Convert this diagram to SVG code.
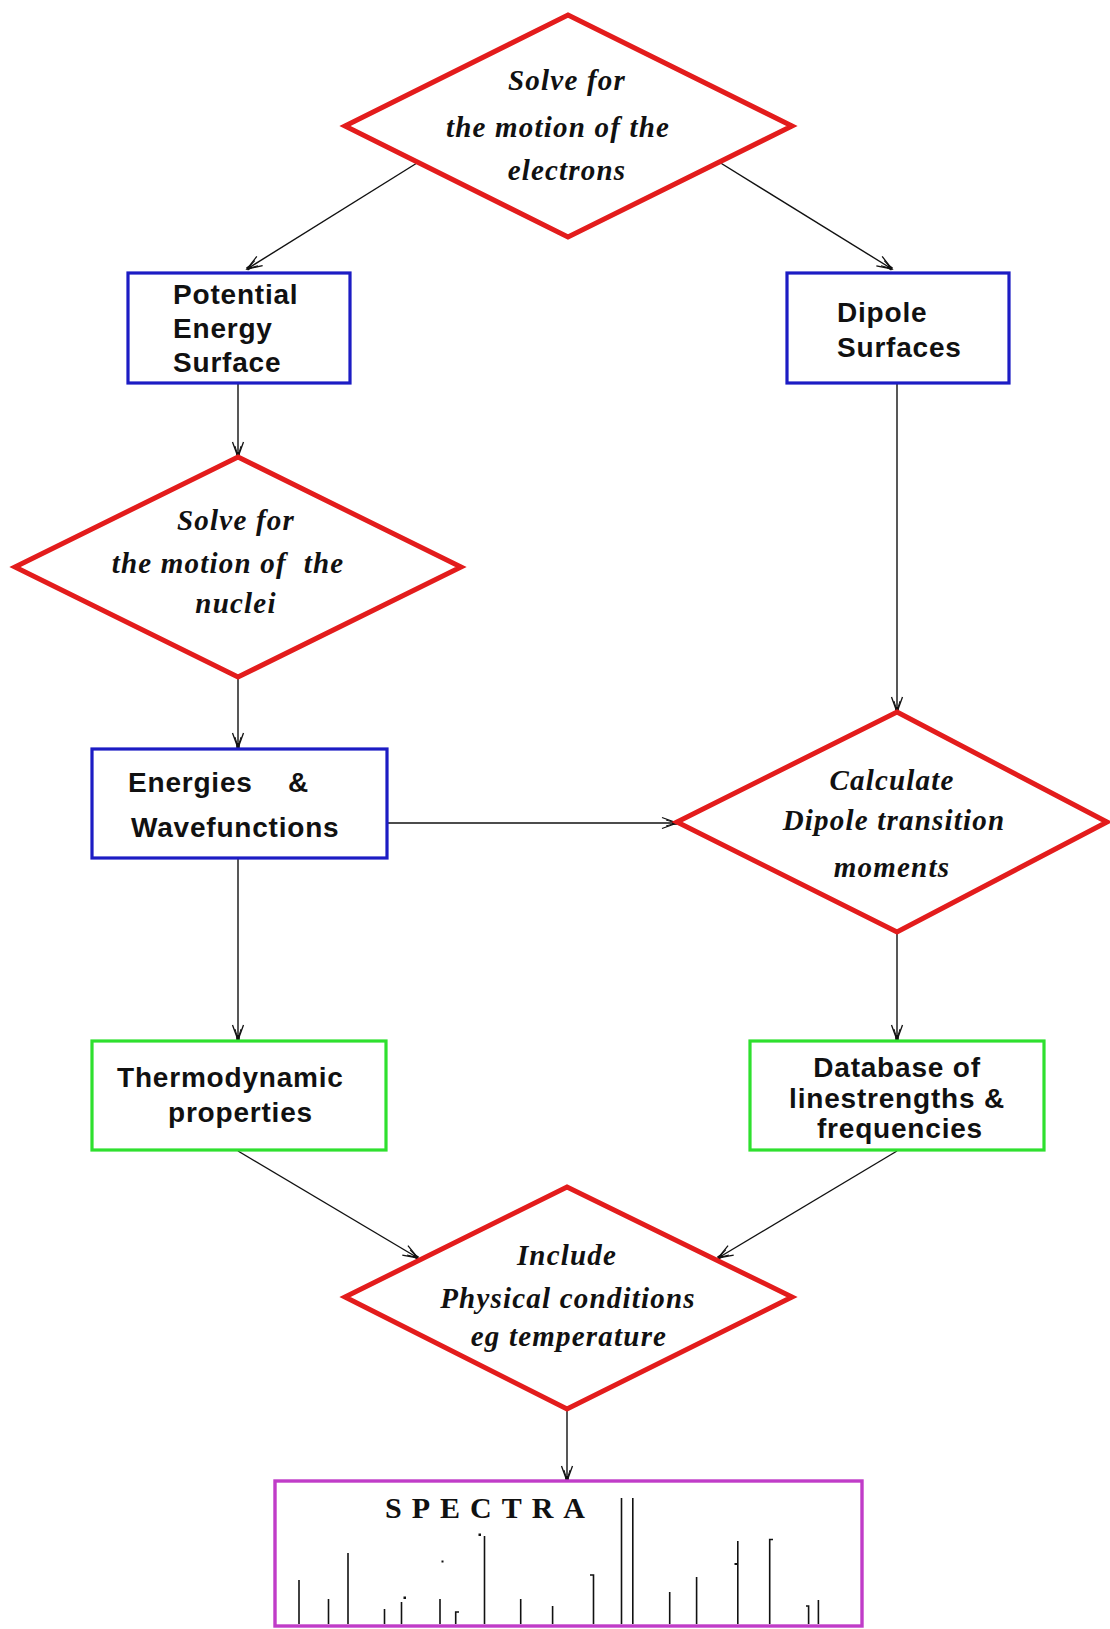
<svg xmlns="http://www.w3.org/2000/svg" width="1110" height="1629" viewBox="0 0 1110 1629">
<defs>
<style>
.dia{fill:#fff;stroke:#e31c1c;stroke-width:5;stroke-linejoin:miter}
.blue{fill:#fff;stroke:#1c1cc4;stroke-width:3.2}
.green{fill:#fff;stroke:#2ee02e;stroke-width:3.2}
.mag{fill:#fff;stroke:#c03cc8;stroke-width:3.4}
.dt{font-family:"Liberation Serif","Times New Roman",serif;font-weight:bold;font-style:italic;font-size:29px;letter-spacing:1.2px;fill:#111;text-anchor:middle}
.bt{font-family:"Liberation Sans",Arial,sans-serif;font-weight:bold;font-size:28px;letter-spacing:0.8px;fill:#111}
.c{stroke:#111;stroke-width:1.4;fill:none}
.sp{stroke:#111;stroke-width:1.6;fill:none}
</style>
<marker id="arr" viewBox="-17 -8 19 16" refX="0" refY="0" markerWidth="19" markerHeight="16" orient="auto" markerUnits="userSpaceOnUse">
<path d="M-15,-5.5 L0,0 L-15,5.5" fill="none" stroke="#111" stroke-width="1.3"/>
<path d="M-11,-3 L-1,0 L-11,3" fill="none" stroke="#111" stroke-width="1"/>
<rect x="-5" y="-1.8" width="5" height="3.6" fill="#111"/>
</marker>
</defs>

<g id="connectors">
<line class="c" x1="417" y1="163" x2="247" y2="269" marker-end="url(#arr)"/>
<line class="c" x1="719" y1="162" x2="892" y2="269" marker-end="url(#arr)"/>
<line class="c" x1="238" y1="383" x2="238" y2="457" marker-end="url(#arr)"/>
<line class="c" x1="897" y1="383" x2="897" y2="712" marker-end="url(#arr)"/>
<line class="c" x1="238" y1="677" x2="238" y2="748" marker-end="url(#arr)"/>
<line class="c" x1="387" y1="823" x2="677" y2="823" marker-end="url(#arr)"/>
<line class="c" x1="238" y1="858" x2="238" y2="1040" marker-end="url(#arr)"/>
<line class="c" x1="897" y1="932" x2="897" y2="1040" marker-end="url(#arr)"/>
<line class="c" x1="238" y1="1151" x2="418" y2="1258" marker-end="url(#arr)"/>
<line class="c" x1="897" y1="1151" x2="718" y2="1258" marker-end="url(#arr)"/>
<line class="c" x1="567" y1="1409" x2="567" y2="1481" marker-end="url(#arr)"/>
</g>

<g id="solve-electrons">
<polygon class="dia" points="568,15 792,126 568,237 345,126"/>
<text class="dt" x="567" y="90">Solve for</text>
<text class="dt" x="558" y="137">the motion of the</text>
<text class="dt" x="567" y="180">electrons</text>
</g>

<g id="pes">
<rect class="blue" x="128" y="273" width="222" height="110"/>
<text class="bt" x="173" y="304">Potential</text>
<text class="bt" x="173" y="338">Energy</text>
<text class="bt" x="173" y="372">Surface</text>
</g>

<g id="dipole-surfaces">
<rect class="blue" x="787" y="273" width="222" height="110"/>
<text class="bt" x="837" y="322">Dipole</text>
<text class="bt" x="837" y="357">Surfaces</text>
</g>

<g id="solve-nuclei">
<polygon class="dia" points="238,457 461,567 238,677 15,567"/>
<text class="dt" x="236" y="530">Solve for</text>
<text class="dt" x="228" y="573">the motion of&#160; the</text>
<text class="dt" x="236" y="613">nuclei</text>
</g>

<g id="energies">
<rect class="blue" x="92" y="749" width="295" height="109"/>
<text class="bt" x="128" y="792">Energies</text>
<text class="bt" x="288" y="792">&amp;</text>
<text class="bt" x="131" y="837">Wavefunctions</text>
</g>

<g id="calculate">
<polygon class="dia" points="897,712 1107,822 897,932 677,822"/>
<text class="dt" x="892" y="790">Calculate</text>
<text class="dt" x="894" y="830">Dipole transition</text>
<text class="dt" x="892" y="877">moments</text>
</g>

<g id="thermo">
<rect class="green" x="92" y="1041" width="294" height="109"/>
<text class="bt" x="117" y="1087">Thermodynamic</text>
<text class="bt" x="168" y="1122">properties</text>
</g>

<g id="database">
<rect class="green" x="750" y="1041" width="294" height="109"/>
<text class="bt" x="897" y="1077" text-anchor="middle">Database of</text>
<text class="bt" x="897" y="1108" text-anchor="middle">linestrengths &amp;</text>
<text class="bt" x="900" y="1138" text-anchor="middle">frequencies</text>
</g>

<g id="include">
<polygon class="dia" points="567,1187 792,1297 567,1409 345,1297"/>
<text class="dt" x="567" y="1265">Include</text>
<text class="dt" x="568" y="1308">Physical conditions</text>
<text class="dt" x="569" y="1346">eg temperature</text>
</g>

<g id="spectra">
<rect class="mag" x="275" y="1481" width="587" height="145"/>
<text x="385" y="1518" font-family="Liberation Serif,'Times New Roman',serif" font-weight="bold" font-size="30" letter-spacing="10" fill="#111">SPECTRA</text>
<g class="sp">
<line x1="299" y1="1624" x2="299" y2="1580"/>
<line x1="328.5" y1="1624" x2="328.5" y2="1599"/>
<line x1="348" y1="1624" x2="348" y2="1553"/>
<line x1="384.5" y1="1624" x2="384.5" y2="1609"/>
<line x1="401.5" y1="1624" x2="401.5" y2="1602"/>
<line x1="440" y1="1624" x2="440" y2="1599"/>
<path d="M455.7,1624 V1612 H459"/>
<line x1="484.5" y1="1624" x2="484.5" y2="1536"/>
<line x1="520.7" y1="1624" x2="520.7" y2="1599"/>
<line x1="552.6" y1="1624" x2="552.6" y2="1606"/>
<path d="M593.5,1624 V1575 H590"/>
<line x1="621.5" y1="1624" x2="621.5" y2="1498"/>
<line x1="632.8" y1="1624" x2="632.8" y2="1498"/>
<line x1="669.7" y1="1624" x2="669.7" y2="1592"/>
<line x1="696.6" y1="1624" x2="696.6" y2="1577"/>
<line x1="737.8" y1="1624" x2="737.8" y2="1541"/>
<path d="M769.7,1624 V1539.5 H773"/>
<path d="M808.6,1624 V1606 H806"/>
<line x1="818.4" y1="1624" x2="818.4" y2="1600"/>
</g>
<g fill="#111">
<rect x="403.5" y="1596.5" width="2.5" height="2.5"/>
<rect x="478.5" y="1533.5" width="2.5" height="2.5"/>
<rect x="441.5" y="1560.5" width="2" height="2"/>
<rect x="734.5" y="1563" width="2.5" height="2"/>
</g>
</g>
</svg>
